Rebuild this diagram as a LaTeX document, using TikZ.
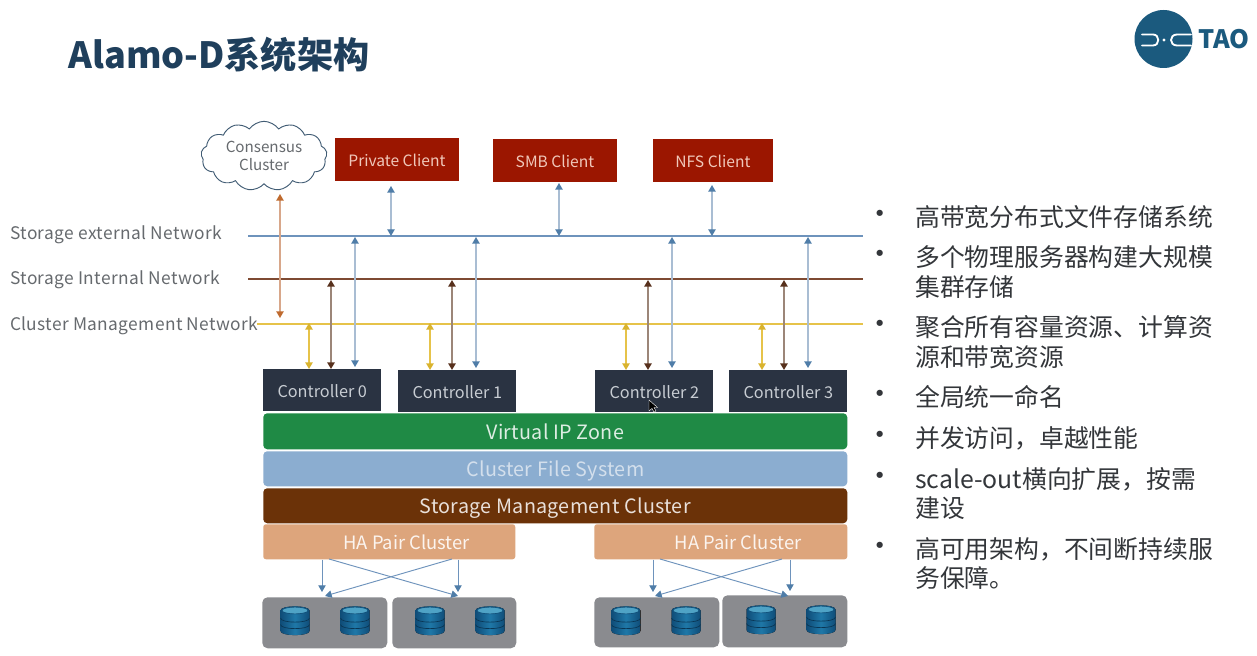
\documentclass[tikz,border=0pt]{standalone}
\usepackage{fontspec}
\setmainfont{Noto Sans CJK SC}
\newfontfamily\lblfont[LetterSpace=2]{Noto Sans CJK SC}
\newfontfamily\barfont[LetterSpace=1.4]{Noto Sans CJK SC}
\usetikzlibrary{arrows.meta,shapes.symbols}
\definecolor{titlec}{HTML}{1F3F5C}
\definecolor{logoc}{HTML}{1B5A7E}
\definecolor{labelc}{HTML}{666A6E}
\definecolor{bodyc}{HTML}{33363A}
\definecolor{redc}{HTML}{9B1600}
\definecolor{redt}{HTML}{F0C8BA}
\definecolor{ctrlc}{HTML}{2A3342}
\definecolor{ctrlt}{HTML}{C8CDD3}
\definecolor{bluel}{HTML}{6E93BC}
\definecolor{blueh}{HTML}{4F7DA8}
\definecolor{paleb}{HTML}{A9BDD3}
\definecolor{brownl}{HTML}{7E4A32}
\definecolor{brownh}{HTML}{57301C}
\definecolor{palebr}{HTML}{9C8678}
\definecolor{yellowl}{HTML}{E6C34A}
\definecolor{yellowh}{HTML}{D9B32E}
\definecolor{oranged}{HTML}{BF6A2E}
\definecolor{paleo}{HTML}{D8A78A}
\definecolor{greenc}{HTML}{1F8A45}
\definecolor{fsc}{HTML}{8BADD0}
\definecolor{fst}{HTML}{D3DFEC}
\definecolor{smc}{HTML}{6B3208}
\definecolor{hac}{HTML}{DDA57C}
\definecolor{grayc}{HTML}{8A8B8F}
\definecolor{dbdark}{HTML}{0F4D78}
\definecolor{dbmid}{HTML}{1F78A8}
\definecolor{dbtop}{HTML}{4FA3C6}
\tikzset{
  x=0.75pt,y=-0.75pt,
  redbox/.style={draw=none,fill=redc,text=redt,font=\fontsize{11.7}{14}\selectfont,inner sep=0pt,anchor=north west,text height=10.5pt,text depth=0pt},
  ctrlbox/.style={fill=ctrlc,text=ctrlt,font=\fontsize{12.2}{14}\selectfont,inner sep=0pt,anchor=north west,minimum width=88.5pt,minimum height=31.5pt,text height=11pt,text depth=0pt},
  bar/.style={rounded corners=3pt,inner sep=0pt,anchor=north west,minimum width=438pt,font=\fontsize{14.8}{17}\selectfont\barfont,text height=12pt,text depth=0pt},
  hapair/.style={fill=hac,text=white!88!hac,rounded corners=2pt,inner sep=0pt,anchor=north west,minimum height=26.25pt,font=\fontsize{13.8}{15}\selectfont,text height=11.3pt,text depth=0pt},
  graybox/.style={fill=grayc,rounded corners=4pt,inner sep=0pt,anchor=north west},
  netlabel/.style={text=labelc,anchor=west,inner sep=0pt,font=\fontsize{13}{15}\selectfont\lblfont},
  bullettext/.style={text=bodyc,anchor=west,inner sep=0pt,font=\fontsize{18.6}{22}\selectfont},
  bulletdot/.style={text=bodyc,inner sep=0pt,font=\fontsize{22}{24}\selectfont},
  bluearrow/.style={draw=paleb,line width=1pt,{Triangle[length=5pt,width=5.5pt,color=blueh]}-{Triangle[length=5pt,width=5.5pt,color=blueh]}},
  brownarrow/.style={draw=palebr,line width=1.2pt,{Triangle[length=5pt,width=5.5pt,color=brownh]}-{Triangle[length=5pt,width=5.5pt,color=brownh]}},
  yellowarrow/.style={draw=yellowl,line width=1.1pt,{Triangle[length=5pt,width=5.5pt,color=yellowh]}-{Triangle[length=5pt,width=5.5pt,color=yellowh]}},
  orangearrow/.style={draw=paleo,line width=1pt,{Triangle[length=5pt,width=5.5pt,color=oranged]}-{Triangle[length=5pt,width=5.5pt,color=oranged]}},
  haarrow/.style={draw=bluel,line width=0.7pt,-{Triangle[length=5pt,width=5.5pt,color=blueh]}},
  dbcyl/.pic={
    \fill[left color=dbdark,right color=dbdark,middle color=dbmid] (-14.5,-10.5) -- (-14.5,10) .. controls (-14.5,15.5) and (14.5,15.5) .. (14.5,10) -- (14.5,-10.5) .. controls (14.5,-16) and (-14.5,-16) .. (-14.5,-10.5) -- cycle;
    \draw[dbdark!70!black,line width=0.5pt] (-14.5,-3) .. controls (-14.5,2.5) and (14.5,2.5) .. (14.5,-3);
    \draw[dbdark!70!black,line width=0.5pt] (-14.5,3.5) .. controls (-14.5,9) and (14.5,9) .. (14.5,3.5);
    \fill[dbtop,draw=dbdark,line width=0.5pt] (0,-10.5) ellipse[x radius=13,y radius=3.4];
  }
}
\begin{document}
\begin{tikzpicture}
\useasboundingbox[fill=white] (0,0) rectangle (1257,656);
% title
\node[anchor=west,inner sep=0pt,text=titlec,font=\fontsize{27.1}{30}\selectfont\bfseries] (title) at (68,55) {Alamo-D系统架构};
% logo
\node[circle,fill=logoc,minimum size=43.5pt,inner sep=0pt] (logo) at (1163.5,39) {};
\draw[white,line width=1.4pt,line cap=round] (1142,34.5) -- (1153,34.5) .. controls (1160,34.5) and (1160,45.5) .. (1153,45.5) -- (1142,45.5);
\draw[white,line width=1.4pt,line cap=round] (1191,34.5) -- (1177,34.5) .. controls (1169,34.5) and (1169,45.5) .. (1177,45.5) -- (1191,45.5);
\fill[white] (1164,40) circle[radius=1.6];
\node[anchor=west,inner sep=0pt,text=logoc,font=\fontsize{19}{20}\selectfont\bfseries] (tao) at (1198,39) {TAO};
% network labels
\node[netlabel] (lext) at (10,235) {Storage external Network};
\node[netlabel] (lint) at (10,280) {Storage Internal Network};
\node[netlabel] (lmgt) at (10,326) {Cluster Management Network};
% network lines
\coordinate (ea) at (248,236); \coordinate (eb) at (863,236);
\coordinate (ia) at (248,279); \coordinate (ib) at (863,279);
\coordinate (ma) at (257,324); \coordinate (mb) at (863,324);
\draw[bluel,line width=1.2pt] (ea) -- (eb);
\draw[brownl,line width=1.4pt] (ia) -- (ib);
\draw[yellowl,line width=1.2pt] (ma) -- (mb);
% cloud and clients
\node[cloud,cloud puffs=13,cloud puff arc=110,aspect=2.2,draw=titlec!85,line width=0.7pt,fill=white,text=labelc,inner sep=0pt,minimum width=94.5pt,minimum height=52pt,align=center,font=\fontsize{11.4}{13.5}\selectfont] (cloud) at (264,156) {Consensus\\Cluster};
\node[redbox,minimum width=92.5pt,minimum height=32pt] (pc) at (335,138) {Private Client};
\node[redbox,minimum width=92.5pt,minimum height=32pt] (sc) at (493,139) {SMB Client};
\node[redbox,minimum width=89.5pt,minimum height=32pt] (nc) at (653,139) {NFS Client};
% controllers
\node[ctrlbox] (c0) at (263,369) {Controller 0};
\node[ctrlbox] (c1) at (398,370) {Controller 1};
\node[ctrlbox] (c2) at (595,370) {Controller 2};
\node[ctrlbox] (c3) at (729,370) {Controller 3};
% bars
\node[bar,fill=greenc,text=white!85!greenc,minimum height=27pt] (vip) at (263,413) {Virtual IP Zone};
\node[bar,fill=fsc,text=fst,minimum height=26.25pt] (cfs) at (263,451) {Cluster File System};
\node[bar,fill=smc,text=white!85!smc,minimum height=26.25pt] (smg) at (263,488) {Storage Management Cluster};
\node[hapair,minimum width=189pt] (ha1) at (263,524) {\hspace*{26pt}HA Pair Cluster};
\node[hapair,minimum width=189.75pt] (ha2) at (594,524) {\hspace*{26pt}HA Pair Cluster};
% disk groups
\node[graybox,minimum width=93.75pt,minimum height=38.25pt] (g1) at (262,597) {};
\node[graybox,minimum width=93pt,minimum height=38.25pt] (g2) at (392,597) {};
\node[graybox,minimum width=93.75pt,minimum height=37.5pt] (g3) at (594,597) {};
\node[graybox,minimum width=93.75pt,minimum height=39pt] (g4) at (722,595) {};
\foreach \px/\py in {295/621,355/621,430/621,490/621,626/621,686/621,761/620,821/620}
  \pic at (\px,\py) {dbcyl};
% client links
\coordinate (tc) at (280,194); \coordinate (tm) at (280,318);
\draw[orangearrow] (tc) -- (tm);
\draw[bluearrow] (391,186) coordinate (p1) -- (p1 |- ea);
\draw[bluearrow] (559,183) coordinate (p2) -- (p2 |- ea);
\draw[bluearrow] (712,185) coordinate (p3) -- (p3 |- ea);
% controller links
\foreach \cn/\bx/\rx/\yx in {c0/355/331/309,c1/476/452/430,c2/672/648/626,c3/808/784/762}{
  \coordinate (bt) at (\bx,237); \coordinate (rt) at (\rx,280); \coordinate (yt) at (\yx,323);
  \draw[bluearrow] (bt) -- ([yshift=1.5pt]bt |- \cn.north);
  \draw[brownarrow] (rt) -- (rt |- \cn.north);
  \draw[yellowarrow] (yt) -- (yt |- \cn.north);
}
% HA links
\coordinate (a1) at (322,592); \coordinate (a2) at (325,596); \coordinate (a3) at (458,596); \coordinate (a4) at (458,592);
\draw[haarrow] (ha1.south -| a1) -- (a1);
\draw[haarrow] (329,559) coordinate (s1) -- (a3);
\draw[haarrow] (452,559) coordinate (s2) -- (a2);
\draw[haarrow] (ha1.south -| a4) -- (a4);
\coordinate (b1) at (653,592); \coordinate (b2) at (655,596); \coordinate (b3) at (788,596); \coordinate (b4) at (790,591);
\draw[haarrow] (ha2.south -| b1) -- (b1);
\draw[haarrow] (660,559) coordinate (s3) -- (b3);
\draw[haarrow] (782,559) coordinate (s4) -- (b2);
\draw[haarrow] (ha2.south -| b4) -- (b4);
% cursor
\fill[black,draw=white,line width=0.3pt] (649,400) -- (649,411) -- (652,408.5) -- (654,412) -- (656,411) -- (654,407.5) -- (657.5,407.5) -- cycle;
% bullets
\foreach \by in {217,257,327,397,438,479,549}
  \node[bulletdot] at (880,\by) {•};
\node[bullettext] (t1) at (915,217) {高带宽分布式文件存储系统};
\node[bullettext] (t2a) at (915,257) {多个物理服务器构建大规模};
\node[bullettext] (t2b) at (915,287) {集群存储};
\node[bullettext] (t3a) at (915,327) {聚合所有容量资源、计算资};
\node[bullettext] (t3b) at (915,357) {源和带宽资源};
\node[bullettext] (t4) at (915,397) {全局统一命名};
\node[bullettext] (t5) at (915,438) {并发访问，卓越性能};
\node[bullettext] (t6a) at (915,479) {scale-out横向扩展，按需};
\node[bullettext] (t6b) at (915,508) {建设};
\node[bullettext] (t7a) at (915,549) {高可用架构，不间断持续服};
\node[bullettext] (t7b) at (915,578) {务保障。};
\end{tikzpicture}
\end{document}
